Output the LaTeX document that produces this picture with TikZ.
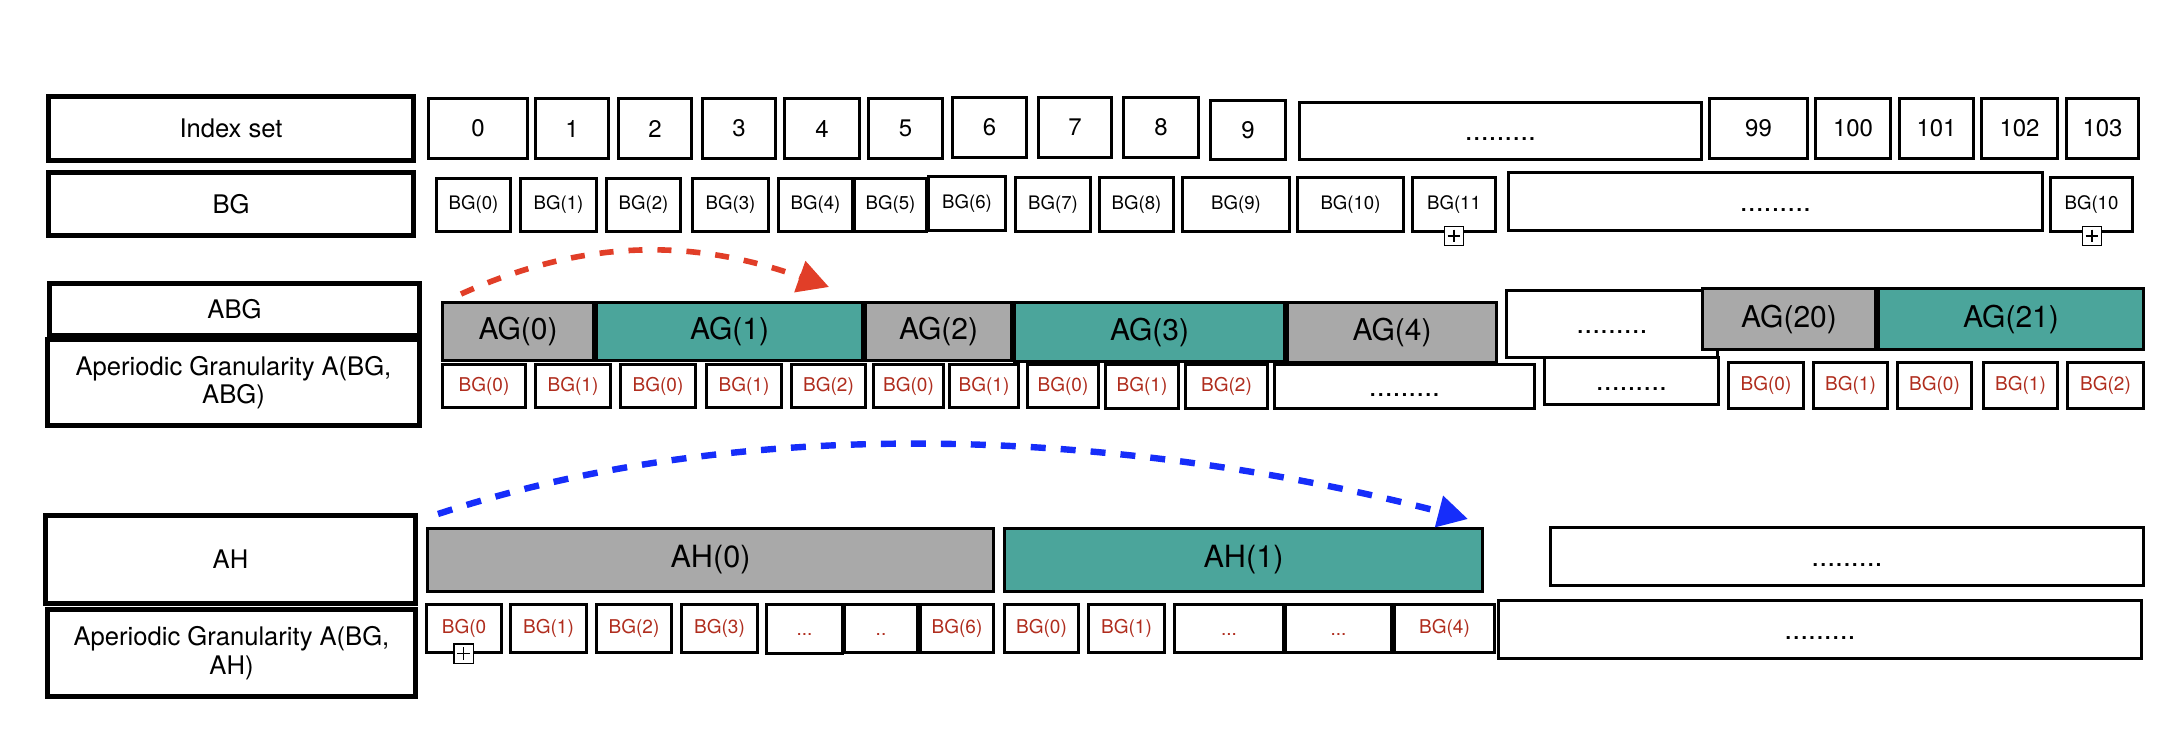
\documentclass[tikz,border=0pt]{standalone}
\usepackage{fontspec}
\setmainfont{TeX Gyre Heros}
\usetikzlibrary{arrows.meta}
\definecolor{tealfill}{RGB}{75,165,155}
\definecolor{greyfill}{RGB}{169,169,169}
\definecolor{redtxt}{RGB}{176,45,30}
\definecolor{redarr}{RGB}{225,62,40}
\definecolor{bluearr}{RGB}{22,45,250}
\newcommand\cellbox[7][]{%
  \pgfmathsetmacro\cbw{((#5)-(#3)-3)*0.5}%
  \pgfmathsetmacro\cbh{((#6)-(#4)-3)*0.5}%
  \pgfmathsetmacro\cbx{((#3)+(#5))/2}%
  \pgfmathsetmacro\cby{((#4)+(#6))/2}%
  \node[#1, minimum width=\cbw pt, minimum height=\cbh pt] (#2) at (\cbx,\cby) {#7};}
\newcommand\dotstxt{\vphantom{0}.........}
\tikzset{
  cell/.style={draw, line width=1.4pt, inner sep=0pt, fill=white, font=\fontsize{12}{14}\selectfont},
  lab/.style={draw, line width=2.3pt, inner sep=0pt, fill=white, align=center, font=\fontsize{12.8}{14.2}\selectfont},
  bgcell/.style={cell, font=\fontsize{9.3}{11}\selectfont},
  redcell/.style={cell, text=redtxt, font=\fontsize{9.5}{11}\selectfont},
  agcell/.style={cell, font=\fontsize{15}{17}\selectfont},
  ahcell/.style={cell, font=\fontsize{15.3}{17}\selectfont},
  dotcell/.style={cell, font=\fontsize{14.2}{16}\selectfont},
  greyag/.style={fill=greyfill},
  tealag/.style={fill=tealfill},
  plusbox/.style={draw, fill=white, line width=0.6pt, minimum size=9.6pt, inner sep=0pt,
    path picture={\draw[line width=0.6pt]
      ([yshift=-1.6pt]path picture bounding box.north) -- ([yshift=1.6pt]path picture bounding box.south)
      ([xshift=1.6pt]path picture bounding box.west) -- ([xshift=-1.6pt]path picture bounding box.east);}},
  redarrow/.style={draw=redarr, line width=2.8pt, dash pattern=on 7pt off 7.5pt,
    -{Triangle[length=15.5pt,width=16pt,fill=redarr]}},
  bluearrow/.style={draw=bluearr, line width=3.2pt, dash pattern=on 7.5pt off 7.5pt,
    -{Triangle[length=15pt,width=15.5pt,fill=bluearr]}},
}
\begin{document}
\begin{tikzpicture}[x=0.5pt,y=-0.5pt]
\useasboundingbox (0,0) rectangle (2184,736);
% left labels
\cellbox[lab]{lidx}{47}{95}{415}{162}{Index set}
\cellbox[lab]{lbg}{47}{171}{415}{237}{BG}
\cellbox[lab]{labg}{48}{282}{421}{337}{ABG}
\cellbox[lab]{lagabg}{46}{338}{421}{427}{Aperiodic Granularity A(BG,\\ABG)}
\cellbox[lab]{lah}{44}{514}{417}{605}{AH}
\cellbox[lab]{lagah}{46}{608}{417}{698}{Aperiodic Granularity A(BG,\\AH)}
% index row
\cellbox[cell]{i0}{427}{97}{529}{160}{0}
\cellbox[cell]{i1}{534}{97}{610}{160}{1}
\cellbox[cell]{i2}{617}{97}{693}{160}{2}
\cellbox[cell]{i3}{701}{97}{777}{160}{3}
\cellbox[cell]{i4}{783}{97}{861}{160}{4}
\cellbox[cell]{i5}{867}{97}{944}{160}{5}
\cellbox[cell]{i6}{951}{96}{1028}{159}{6}
\cellbox[cell]{i7}{1037}{96}{1113}{159}{7}
\cellbox[cell]{i8}{1122}{96}{1200}{159}{8}
\cellbox[cell]{i9}{1209}{99}{1287}{161}{9}
\cellbox[dotcell]{idots}{1298}{101}{1703}{161}{\dotstxt}
\cellbox[cell]{i99}{1708}{97}{1809}{160}{99}
\cellbox[cell]{i100}{1814}{97}{1892}{160}{100}
\cellbox[cell]{i101}{1898}{97}{1975}{160}{101}
\cellbox[cell]{i102}{1980}{97}{2059}{160}{102}
\cellbox[cell]{i103}{2065}{97}{2140}{160}{103}
% BG row
\cellbox[bgcell]{b0}{435}{177}{512}{233}{BG(0)}
\cellbox[bgcell]{b1}{519}{177}{598}{233}{BG(1)}
\cellbox[bgcell]{b2}{605}{177}{682}{233}{BG(2)}
\cellbox[bgcell]{b3}{691}{177}{770}{233}{BG(3)}
\cellbox[bgcell]{b4}{777}{177}{854}{233}{BG(4)}
\cellbox[bgcell]{b5}{853}{177}{928}{233}{BG(5)}
\cellbox[bgcell]{b6}{927}{175}{1007}{232}{BG(6)}
\cellbox[bgcell]{b7}{1014}{176}{1092}{233}{BG(7)}
\cellbox[bgcell]{b8}{1098}{176}{1175}{233}{BG(8)}
\cellbox[bgcell]{b9}{1181}{176}{1291}{233}{BG(9)}
\cellbox[bgcell]{b10}{1296}{176}{1405}{233}{BG(10)}
\cellbox[bgcell]{b11}{1411}{176}{1497}{233}{BG(11}
\cellbox[dotcell]{bdots}{1507}{171}{2044}{232}{\dotstxt}
\cellbox[bgcell]{b10r}{2049}{176}{2134}{233}{BG(10}
\node[plusbox] (pl1) at (1454,236) {};
\node[plusbox] (pl2) at (2092,236) {};
% ABG row
\cellbox[agcell,greyag]{ag0}{441}{301}{595}{362}{AG(0)}
\cellbox[agcell,tealag]{ag1}{595}{301}{864}{362}{AG(1)}
\cellbox[agcell,greyag]{ag2}{864}{301}{1013}{362}{AG(2)}
\cellbox[agcell,tealag]{ag3}{1013}{301}{1286}{363}{AG(3)}
\cellbox[agcell,greyag]{ag4}{1286}{301}{1498}{364}{AG(4)}
\cellbox[dotcell]{agdots}{1505}{289}{1719}{359}{\dotstxt}
\cellbox[agcell,greyag]{ag20}{1701}{287}{1877}{351}{AG(20)}
\cellbox[agcell,tealag]{ag21}{1877}{287}{2145}{351}{AG(21)}
% A(BG,ABG) row
\cellbox[redcell]{r0}{441}{363}{527}{409}{BG(0)}
\cellbox[redcell]{r1}{534}{363}{612}{409}{BG(1)}
\cellbox[redcell]{r2}{619}{363}{697}{409}{BG(0)}
\cellbox[redcell]{r3}{705}{363}{783}{409}{BG(1)}
\cellbox[redcell]{r4}{790}{363}{867}{409}{BG(2)}
\cellbox[redcell]{r5}{872}{363}{945}{409}{BG(0)}
\cellbox[redcell]{r6}{948}{363}{1020}{409}{BG(1)}
\cellbox[redcell]{r7}{1026}{363}{1100}{409}{BG(0)}
\cellbox[redcell]{r8}{1104}{363}{1180}{410}{BG(1)}
\cellbox[redcell]{r9}{1184}{363}{1269}{410}{BG(2)}
\cellbox[dotcell]{rd1}{1273}{363}{1536}{410}{\dotstxt}
\cellbox[dotcell]{rd2}{1543}{356}{1720}{406}{\dotstxt}
\cellbox[redcell]{r10}{1727}{361}{1805}{410}{BG(0)}
\cellbox[redcell]{r11}{1812}{361}{1889}{410}{BG(1)}
\cellbox[redcell]{r12}{1896}{361}{1973}{410}{BG(0)}
\cellbox[redcell]{r13}{1982}{361}{2059}{410}{BG(1)}
\cellbox[redcell]{r14}{2066}{361}{2145}{410}{BG(2)}
% AH row
\cellbox[ahcell,greyag]{ah0}{426}{527}{995}{593}{AH(0)}
\cellbox[ahcell,tealag]{ah1}{1003}{527}{1484}{593}{AH(1)}
\cellbox[dotcell]{ahdots}{1549}{526}{2145}{587}{\dotstxt}
% A(BG,AH) row
\cellbox[redcell]{h0}{425}{603}{503}{654}{BG(0}
\cellbox[redcell]{h1}{509}{603}{588}{654}{BG(1)}
\cellbox[redcell]{h2}{595}{603}{673}{654}{BG(2)}
\cellbox[redcell]{h3}{680}{603}{759}{654}{BG(3)}
\cellbox[redcell]{h4}{765}{603}{844}{655}{\vphantom{0}...}
\cellbox[redcell]{h5}{843}{603}{919}{654}{\vphantom{0}..}
\cellbox[redcell]{h6}{919}{603}{995}{654}{BG(6)}
\cellbox[redcell]{h7}{1003}{603}{1080}{654}{BG(0)}
\cellbox[redcell]{h8}{1087}{603}{1166}{654}{BG(1)}
\cellbox[redcell]{h9}{1173}{603}{1285}{654}{\vphantom{0}...}
\cellbox[redcell]{h10}{1284}{603}{1393}{654}{\vphantom{0}...}
\cellbox[redcell]{h11}{1393}{603}{1496}{654}{BG(4)}
\cellbox[dotcell]{hdots}{1497}{599}{2143}{660}{\dotstxt}
\node[plusbox] (pl3) at (463.5,653.5) {};
% arrows
\coordinate (rs) at (461,294);
\coordinate (re) at (829,287);
\draw[redarrow] (rs) .. controls (591,235.5) and (699,240.7) .. (re);
\coordinate (bs) at (438,514);
\coordinate (be) at (1468,519);
\draw[bluearrow] (bs) .. controls (758,408.4) and (1138,433.2) .. (be);
\end{tikzpicture}
\end{document}
